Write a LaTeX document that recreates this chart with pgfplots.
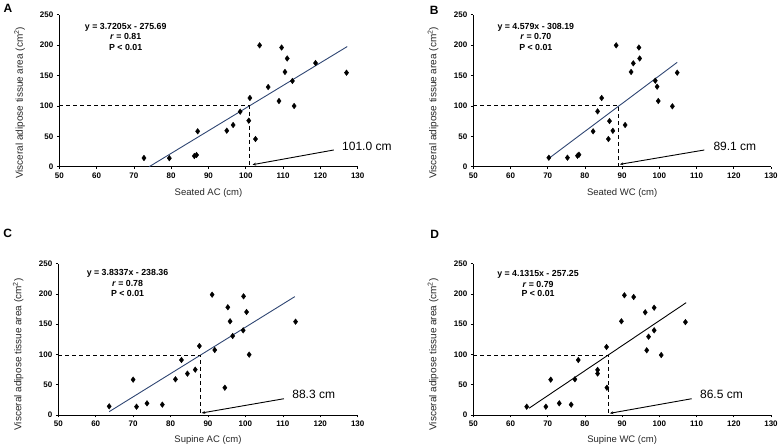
\documentclass[border=0pt]{standalone}
\usepackage{pgfplots}
\pgfplotsset{compat=1.18}
\usepackage{fontspec}
\setmainfont{Liberation Sans}
\usetikzlibrary{arrows.meta}
\definecolor{reg}{RGB}{47,70,115}
\pgfplotsset{
 panel/.style={
  scale only axis, anchor=south west, clip=false,
  xmin=50,xmax=130,ymin=0,ymax=250,
  axis x line*=bottom, axis y line*=left,
  axis line style={-, black, line width=0.8pt},
  xtick={50,60,...,130}, ytick={0,50,...,250},
  tick align=outside, major tick length=2.5pt,
  tick style={black, line width=0.6pt},
  /pgf/number format/assume math mode=true,
  xticklabel={\textbf{\pgfmathprintnumber{\tick}}},
  yticklabel={\textbf{\pgfmathprintnumber{\tick}}},
  ticklabel style={font=\fontsize{8}{9}\selectfont},
  xlabel style={font=\fontsize{9.5}{11}\selectfont, anchor=center, text=black!85},
  ylabel style={font=\fontsize{10}{12}\selectfont, anchor=center, text=black!85},
  ylabel={Visceral adipose tissue area (cm\textsuperscript{2})},
 },
 pts/.style={only marks, mark=diamond*, mark size=2.8pt, black},
 dsh/.style={black, line width=0.8pt, dash pattern=on 4pt off 3pt},
}
\tikzset{
 eq/.style={font=\bfseries\fontsize{8.8}{10}\selectfont, anchor=base},
 ann/.style={anchor=base west, font=\fontsize{12}{14}\selectfont},
 arr/.style={line width=0.9pt, -{Stealth[length=3.5pt,width=2.8pt]}},
}
\begin{document}
\begin{tikzpicture}
\path[use as bounding box] (0pt,0pt) rectangle (781pt,446pt);
% ---------------- A ----------------
\begin{axis}[panel, at={(59.3pt,279.3pt)}, width=298.4pt, height=152pt,
  xlabel={Seated AC (cm)},
  xlabel style={at={(axis description cs:0.5,-0.171)}},
  ylabel style={at={(axis description cs:-0.133,0.42)}}]
\addplot[pts] coordinates {
(72.7,14.3) (79.5,14.0) (86.2,17.6) (86.8,19.2) (87.1,58.2) (94.9,59.2)
(96.6,68.6) (98.5,90.5) (100.8,75.7) (101.1,113) (102.6,45.5) (103.7,199.6)
(106.0,131) (108.9,108) (109.6,196) (111.1,178) (110.5,155.8) (112.5,141)
(112.96,99.8) (118.7,170.5) (127.0,154.6)};
\addplot[reg, line width=0.9pt] coordinates {(74.1,0) (127.2,197.6)};
\addplot[dsh] coordinates {(50,100) (101,100) (101,0)};
\draw[arr] (axis cs:123.6,27.5) -- (axis cs:101.8,3.3);
\node[ann] at (axis cs:124.9,26.3) {101.0 cm};
\node[eq] at (axis cs:67.8,226) {y = 3.7205x - 275.69};
\node[eq] at (axis cs:67.8,208.4) {\textit{r} = 0.81};
\node[eq] at (axis cs:67.8,190.8) {P < 0.01};
\end{axis}
% ---------------- B ----------------
\begin{axis}[panel, at={(473.3pt,279.3pt)}, width=297.7pt, height=152pt,
  xlabel={Seated WC (cm)},
  xlabel style={at={(axis description cs:0.5,-0.171)}},
  ylabel style={at={(axis description cs:-0.135,0.42)}}]
\addplot[pts] coordinates {
(70.3,14.8) (75.3,14.8) (78.0,18) (78.4,19.7) (82.2,58.2) (83.4,91)
(84.5,113) (86.3,45.5) (86.6,75) (87.5,59) (88.4,199.6) (90.8,68.6)
(92.4,155.8) (93.0,170) (94.5,196) (94.7,178) (98.9,141.4) (99.4,131.6)
(99.7,108) (103.5,99.3) (104.8,154.6)};
\addplot[reg, line width=0.9pt] coordinates {(70.3,13.7) (104.8,171.7)};
\addplot[dsh] coordinates {(50,100) (89.1,100) (89.1,0)};
\draw[arr] (axis cs:112.1,27.5) -- (axis cs:89.4,3.9);
\node[ann] at (axis cs:113.6,27) {89.1 cm};
\node[eq] at (axis cs:66.8,226) {y = 4.579x - 308.19};
\node[eq] at (axis cs:66.8,208.4) {\textit{r} = 0.70};
\node[eq] at (axis cs:66.8,190.8) {P < 0.01};
\end{axis}
% ---------------- C ----------------
\begin{axis}[panel, at={(58.3pt,31pt)}, width=299.4pt, height=151.3pt,
  xlabel={Supine AC (cm)},
  xlabel style={at={(axis description cs:0.5,-0.163)}},
  ylabel style={at={(axis description cs:-0.134,0.40)}}]
\addplot[pts] coordinates {
(63.6,14.3) (70.0,58.4) (70.9,13.7) (73.7,19.3) (77.8,17.1) (81.3,59)
(82.9,90.9) (84.5,68.3) (86.6,74.9) (87.7,114) (91.1,198.8) (91.8,107.4)
(94.5,45.1) (95.3,178) (95.9,154.8) (96.6,130.5) (99.4,139.9) (99.5,196.1)
(100.3,170.2) (101.0,99.7) (113.4,154.2)};
\addplot[reg, line width=0.9pt] coordinates {(63.6,5.5) (113.2,195.6)};
\addplot[dsh] coordinates {(50,99) (88.0,99) (88.0,0)};
\draw[arr] (axis cs:110.3,26.9) -- (axis cs:88.3,3.3);
\node[ann] at (axis cs:111.6,26.9) {88.3 cm};
\node[eq] at (axis cs:68.5,230.8) {y = 3.8337x - 238.36};
\node[eq] at (axis cs:68.5,212.7) {\textit{r} = 0.78};
\node[eq] at (axis cs:68.5,196.2) {P < 0.01};
\end{axis}
% ---------------- D ----------------
\begin{axis}[panel, at={(473.3pt,31pt)}, width=297.7pt, height=151.3pt,
  xlabel={Supine WC (cm)},
  xlabel style={at={(axis description cs:0.5,-0.163)}},
  ylabel style={at={(axis description cs:-0.135,0.40)}}]
\addplot[pts] coordinates {
(64.35,13.7) (69.5,13.7) (70.8,58.4) (73.1,19.3) (76.3,17.1) (77.3,59)
(78.2,90.9) (83.4,68.5) (83.4,74.5) (85.9,45.1) (85.8,112.4) (89.8,154.8)
(90.6,197.8) (93.1,195) (96.2,169.7) (96.6,106.9) (97.1,129.4) (98.6,139.9)
(98.6,177.3) (100.5,99.1) (107.0,153.5)};
\addplot[black, line width=0.9pt] coordinates {(65,11.3) (107.2,185.6)};
\addplot[dsh] coordinates {(50,99) (86.2,99) (86.2,0)};
\draw[arr] (axis cs:108.7,26.9) -- (axis cs:86.7,2.8);
\node[ann] at (axis cs:110.0,26.9) {86.5 cm};
\node[eq] at (axis cs:67.4,229.2) {y = 4.1315x - 257.25};
\node[eq] at (axis cs:67.4,211) {\textit{r} = 0.79};
\node[eq] at (axis cs:67.4,195) {P < 0.01};
\end{axis}
% panel letters
\node[font=\bfseries\fontsize{12}{14}\selectfont] at (8pt,437.7pt) {A};
\node[font=\bfseries\fontsize{12}{14}\selectfont] at (434.3pt,435.5pt) {B};
\node[font=\bfseries\fontsize{12}{14}\selectfont] at (7.7pt,212.5pt) {C};
\node[font=\bfseries\fontsize{12}{14}\selectfont] at (434.7pt,212pt) {D};
\end{tikzpicture}
\end{document}
